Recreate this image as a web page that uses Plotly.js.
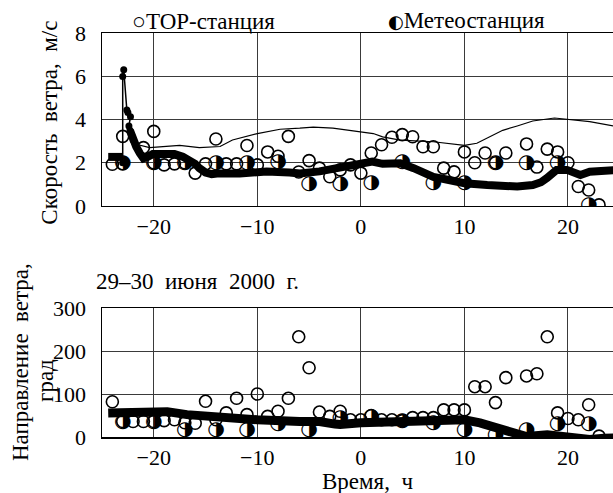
<!DOCTYPE html>
<html><head><meta charset="utf-8">
<script src="https://cdn.plot.ly/plotly-3.0.1.min.js"></script>
<style>html,body{margin:0;padding:0;background:#fff;}#c{width:613px;height:493px;}</style>
</head><body><div id="c"></div>
<script>
// ---- Data: wind speed (top panel) ----
var torSpeedX = [-24,-23,-23,-21,-20,-20,-19,-18,-17,-16,-15,-14,-13,-12,-11,-10,-9,-8,-7,-6,-5,-4,-3,-2,-1,0,1,2,3,4,5,6,7,8,9,10,11,12,13,14,16,17,18,19,20,21,22,23];
var torSpeedY = [1.93,3.22,1.95,2.7,3.45,2.0,1.9,1.95,2.0,1.52,1.95,3.1,1.95,1.95,2.8,1.9,2.5,2.3,3.22,1.57,2.1,1.75,1.35,1.67,1.9,1.52,2.45,2.83,3.18,3.3,3.2,2.74,2.74,1.75,1.58,2.5,2.0,2.45,2.0,2.45,2.87,1.8,2.63,2.5,2.0,0.9,0.74,0.05];
var metSpeedX = [-23,-20,-17,-14,-11,-8,-5,-2,1,4,7,10,13,16,19,22];
var metSpeedY = [2.0,2.0,2.0,2.0,2.0,2.05,1.0,1.0,1.05,2.05,1.05,1.05,2.0,2.0,2.0,0.05];
var thinSpeedX = [-22.1,-20.4,-17.5,-15.6,-13.6,-12.4,-10,-7.8,-5.9,-4.6,-2.7,0,1.2,2.1,3.8,7,10,11.2,12.5,13.7,15.1,16.6,18.7,19.9,22.1,24.4];
var thinSpeedY = [2.9,2.7,2.8,2.7,2.75,3.05,3.35,3.55,3.6,3.65,3.6,3.45,3.35,3.2,3.05,2.97,2.8,2.9,3.2,3.5,3.7,3.93,4.07,4.0,3.9,3.7];
var thickSpeedX = [-24.4,-23.0,null,-22.3,-22.0,-21.7,-21.35,-21.0,-20.5,-20.1,-19.0,-18.0,-17.2,-16.5,-16.0,-15.6,-15.0,-14.4,-13.9,-11.7,-9.1,-6.9,-5.9,-4.0,-2.0,0,1.1,2.1,3.8,5.1,7,8.5,10,12.2,15.1,16.6,17.4,18,18.9,19.9,21.2,22.1,23.8,24.4];
var thickSpeedY = [2.27,2.27,null,3.5,3.05,2.75,2.44,2.2,2.3,2.4,2.4,2.4,2.28,2.13,1.95,1.75,1.55,1.47,1.5,1.5,1.6,1.55,1.5,1.6,1.75,1.9,2.05,1.95,1.98,1.75,1.35,1.2,1.05,0.97,0.9,0.97,1.1,1.3,1.67,1.67,1.43,1.58,1.67,1.65];
var spikeX = [-23.0,-23.0,-22.9,-22.6,-22.5,-22.25,-22.4,-22.3,-22.0];
var spikeY = [2.0,5.99,6.3,4.44,4.32,4.13,3.7,3.5,3.05];
// ---- Data: wind direction (bottom panel) ----
var torDirX = [-24,-23,-22,-21,-20,-19,-18,-17,-16,-15,-14,-13,-12,-11,-10,-9,-8,-7,-6,-5,-4,-3,-2,-1,0,1,2,3,4,5,6,7,8,9,10,11,12,13,14,16,17,18,19,20,21,22,23];
var torDirY = [82,36,36,36,36,38,40,33,32,83,40,56,90,52,100,48,60,90,233,161,58,48,60,40,40,50,40,40,38,45,45,45,63,63,63,117,117,80,138,142,147,233,56,43,40,75,2];
var metDirX = [-23,-20,-17,-14,-11,-8,-5,-2,1,4,7,10,13,16,19,22];
var metDirY = [35,35,17,17,17,30,17,45,47,38,33,17,5,17,30,30];
var thickDirX = [-24.4,-20.1,-18.7,-16.8,-13.9,-10,-5.9,-4,-2.5,-2,0,3.8,8,10,11.5,12.8,14.7,16,18,21.2,22.1,23.5,24.4];
var thickDirY = [56,56,59,52,45,40,36,36,30,29,33,35,36,40,33,25,10,1,5,1,-6,-3,-2];
// ---- Axis ticks ----
var xTicks = [-20,-10,0,10,20];
var xTickText = ['\u221220','\u221210','0','10','20'];
var speedTicks = [0,2,4,6,8];
var dirTicks = [0,100,200,300];

var serif = 'Liberation Serif';
var halfGlyph = '\u25D1';

var traces = [
  {x: thinSpeedX, y: thinSpeedY, xaxis:'x', yaxis:'y', mode:'lines', line:{color:'#000', width:1.2}, hoverinfo:'skip'},
  {x: thickSpeedX, y: thickSpeedY, xaxis:'x', yaxis:'y', mode:'lines', line:{color:'#000', width:8}, connectgaps:false, hoverinfo:'skip'},
  {x: spikeX, y: spikeY, xaxis:'x', yaxis:'y', mode:'lines+markers', line:{color:'#000', width:1.5}, marker:{color:'#000', size:7}, hoverinfo:'skip'},
  {x: torSpeedX, y: torSpeedY, xaxis:'x', yaxis:'y', mode:'markers', marker:{symbol:'circle', size:12, color:'rgba(255,255,255,0)', line:{color:'#000', width:1.6}}, hoverinfo:'skip'},
  {x: metSpeedX, y: metSpeedY, xaxis:'x', yaxis:'y', mode:'text', text: metSpeedX.map(function(){return halfGlyph;}), textposition:'middle center', textfont:{family:'DejaVu Sans', size:20, color:'#000'}, hoverinfo:'skip'},
  {x: thickDirX, y: thickDirY, xaxis:'x2', yaxis:'y2', mode:'lines', line:{color:'#000', width:9}, hoverinfo:'skip'},
  {x: torDirX, y: torDirY, xaxis:'x2', yaxis:'y2', mode:'markers', marker:{symbol:'circle', size:12, color:'rgba(255,255,255,0)', line:{color:'#000', width:1.6}}, hoverinfo:'skip'},
  {x: metDirX, y: metDirY, xaxis:'x2', yaxis:'y2', mode:'text', text: metDirX.map(function(){return halfGlyph;}), textposition:'middle center', textfont:{family:'DejaVu Sans', size:20, color:'#000'}, hoverinfo:'skip'}
];

var axisCommon = {
  showgrid:true, gridcolor:'#3a3a3a', gridwidth:1, zeroline:false,
  showline:true, linecolor:'#000', linewidth:1.5, ticks:'',
  tickfont:{family:serif, size:22, color:'#000'}
};
function ax(extra){ var o = JSON.parse(JSON.stringify(axisCommon)); for (var k in extra) o[k]=extra[k]; return o; }

var layout = {
  width:613, height:493,
  margin:{l:102, r:0, t:33, b:56},
  paper_bgcolor:'#fff', plot_bgcolor:'#fff',
  showlegend:false,
  font:{family:serif, color:'#000'},
  xaxis: ax({domain:[0,1], anchor:'y', range:[-25,24.35], tickvals:xTicks, ticktext:xTickText, mirror:true, ticklabelstandoff:0}),
  yaxis: ax({domain:[0.5718,1], anchor:'x', range:[0,8], tickvals:speedTicks, ticklabelstandoff:10}),
  xaxis2: ax({domain:[0,1], anchor:'y2', range:[-25,24.35], tickvals:xTicks, ticktext:xTickText, mirror:true, ticklabelstandoff:0}),
  yaxis2: ax({domain:[0,0.3193], anchor:'x2', range:[0,300], tickvals:dirTicks, ticklabelstandoff:10}),
  annotations:[
    {xref:'paper', yref:'paper', x:0.198, y:1.0297, text:'\u25CBТОР-станция', showarrow:false, xanchor:'center', yanchor:'middle', font:{family:serif, size:23, color:'#000'}},
    {xref:'paper', yref:'paper', x:0.713, y:1.032, text:'<span style="font-family:DejaVu Sans;font-size:18px">\u25D0</span>Метеостанция', showarrow:false, xanchor:'center', yanchor:'middle', font:{family:serif, size:23, color:'#000'}},
    {xref:'paper', yref:'paper', x:0.187, y:0.3837, text:'29\u201330  июня  2000  г.', showarrow:false, xanchor:'center', yanchor:'middle', font:{family:serif, size:23, color:'#000'}},
    {xref:'paper', yref:'paper', x:0.5186, y:-0.11, text:'Время,  ч', showarrow:false, xanchor:'center', yanchor:'middle', font:{family:serif, size:23, color:'#000'}},
    {xref:'paper', yref:'paper', x:-0.1018, y:0.778, text:'Скорость  ветра,  м/с', textangle:-90, showarrow:false, xanchor:'center', yanchor:'middle', font:{family:serif, size:23, color:'#000'}},
    {xref:'paper', yref:'paper', x:-0.1605, y:0.1856, text:'Направление  ветра,', textangle:-90, showarrow:false, xanchor:'center', yanchor:'middle', font:{family:serif, size:23, color:'#000'}},
    {xref:'paper', yref:'paper', x:-0.1115, y:0.1386, text:'град', textangle:-90, showarrow:false, xanchor:'center', yanchor:'middle', font:{family:serif, size:23, color:'#000'}}
  ]
};

Plotly.newPlot('c', traces, layout, {staticPlot:true, displayModeBar:false});
</script>
</body></html>
